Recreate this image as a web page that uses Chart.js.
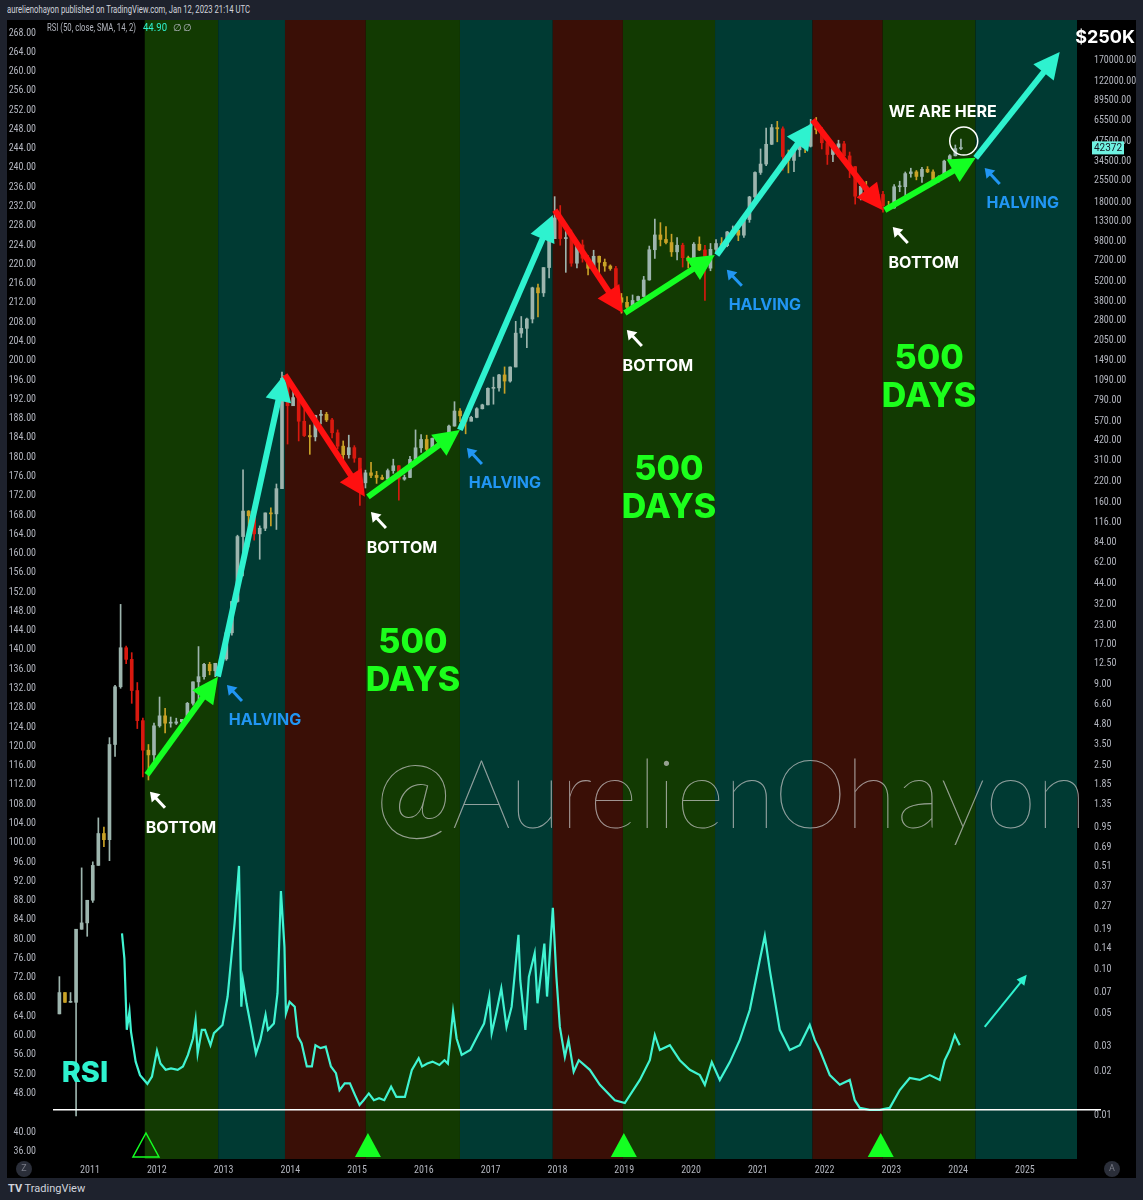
<!DOCTYPE html>
<html>
<head>
<meta charset="utf-8">
<title>BTC cycles</title>
<script src="https://cdn.jsdelivr.net/npm/chart.js@4.4.1/dist/chart.umd.min.js"></script>
<style>
    html, body { margin: 0; padding: 0; background: #1e222d; }
    body { width: 1143px; height: 1200px; position: relative; overflow: hidden; font-family: Roboto, "Liberation Sans", sans-serif; }
    #topo { position: absolute; left: 7px; top: 3px; font-size: 11px; color: #d1d4dc; white-space: nowrap; transform-origin: left center; }
    #quadro { position: absolute; left: 7px; top: 20px; width: 1129px; height: 1158px; background: #000; }
    #rodape { position: absolute; left: 8px; top: 1182px; font-size: 11px; color: #d1d4dc; }
</style>
</head>
<body>
<div id="topo">aurelienohayon published on TradingView.com, Jan 12, 2023 21:14 UTC</div>
<div id="quadro"><canvas id="grafico" width="1129" height="1158"></canvas></div>
<div id="rodape"><b>TV</b> TradingView</div>
<script>
// monthly candles, first one = July 2010
const candleStart = 2010.5;
const firstOpen = 0.05;
const closes = [
    0.07, 0.06, 0.06, 0.19, 0.21, 0.30,
    0.52, 0.86, 0.78, 3.5, 8.7, 16.1, 13.4, 8.2, 5.1, 3.2, 2.97, 4.7,
    5.5, 4.9, 4.9, 5.0, 5.2, 6.7, 9.4, 10.2, 12.4, 11.2, 12.6, 13.5,
    20.4, 33.4, 93, 139, 129, 97, 106, 135, 133, 198, 1130, 732,
    832, 573, 457, 448, 628, 640, 585, 478, 387, 338, 378, 320,
    217, 254, 244, 236, 230, 263, 284, 230, 236, 314, 377, 430,
    368, 437, 416, 448, 531, 673, 624, 573, 609, 698, 742, 963,
    970, 1190, 1080, 1348, 2300, 2480, 2875, 4700, 4340, 6470, 10200, 14150,
    10220, 10330, 6930, 9240, 7500, 6400, 7730, 7030, 6630, 6370, 4020, 3740,
    3460, 3850, 4100, 5320, 8570, 10820, 10080, 9600, 8290, 9200, 7560, 7190,
    9350, 8540, 6410, 8620, 9450, 9140, 11350, 11650, 10780, 13800, 19700, 28990,
    33100, 45200, 58800, 57700, 37300, 35040, 41460, 47100, 43790, 61300, 57000, 46300,
    38480, 43190, 45530, 37640, 31790, 19930, 23300, 20050, 19430, 20490, 17170, 16540,
    23130, 23150, 28480, 29250, 27220, 30480, 29230, 25940, 26970, 34660, 37720, 42270,
    42372
];
const highs = [
    0.09, 0.07, 0.07, 0.19, 0.50, 0.30,
    0.55, 1.10, 0.95, 3.9, 8.9, 31.9, 16.5, 14.9, 9.3, 5.3, 3.5, 4.9,
    7.4, 6.2, 5.4, 5.3, 5.2, 6.8, 9.4, 16.4, 12.6, 12.8, 12.6, 13.7,
    20.4, 33.4, 95, 266, 140, 130, 110, 135, 146, 213, 1242, 1163,
    1000, 850, 700, 540, 630, 680, 660, 600, 500, 420, 460, 390,
    320, 265, 300, 260, 245, 270, 315, 285, 245, 330, 500, 465,
    460, 440, 440, 465, 540, 780, 700, 620, 620, 710, 750, 970,
    1150, 1200, 1350, 1350, 2770, 2990, 2920, 4750, 4980, 6470, 11400, 19800,
    17200, 11800, 11700, 9760, 9990, 7780, 8500, 7760, 7400, 6750, 6600, 4300,
    4100, 4200, 4120, 5630, 9080, 13880, 13140, 12330, 10950, 10370, 9500, 7750,
    9600, 10500, 9200, 9460, 10070, 10380, 11450, 12470, 12100, 14100, 19900, 29300,
    42000, 58300, 61800, 64900, 59600, 41300, 42300, 50500, 52900, 67000, 69000, 59100,
    47900, 45800, 48200, 47400, 40000, 31900, 24700, 25200, 22800, 21000, 21500, 18400,
    23950, 25250, 29200, 31000, 29900, 31400, 31800, 30200, 27500, 35200, 38400, 44700,
    49000
];
const lows = [
    0.05, 0.06, 0.06, 0.01, 0.19, 0.17,
    0.29, 0.52, 0.70, 0.56, 2.9, 8.5, 12.5, 6.7, 4.5, 2.1, 2.0, 2.6,
    4.6, 4.2, 4.6, 4.8, 4.9, 5.2, 6.5, 7.1, 9.8, 10.5, 10.2, 12.4,
    13.2, 19.6, 33, 50, 79, 88, 65, 102, 110, 104, 198, 400,
    750, 420, 450, 340, 420, 550, 570, 440, 370, 280, 320, 300,
    152, 200, 235, 215, 228, 220, 252, 165, 226, 235, 300, 350,
    350, 365, 400, 415, 440, 530, 570, 470, 575, 605, 695, 740,
    750, 920, 890, 1060, 1350, 2150, 1830, 2700, 2970, 4100, 5500, 10900,
    9200, 6000, 6600, 6430, 7050, 5750, 6070, 5880, 6100, 6200, 3700, 3150,
    3380, 3390, 3840, 4070, 5300, 7470, 9100, 9400, 7710, 7300, 6520, 6430,
    6850, 8450, 3850, 6150, 8100, 8900, 8980, 10900, 9880, 10400, 13200, 17600,
    28100, 32300, 45000, 47000, 30000, 28800, 29300, 37300, 39600, 43300, 53300, 42000,
    32900, 34300, 37200, 37600, 26700, 17600, 18800, 19600, 18200, 18200, 15500, 16300,
    16500, 21400, 19550, 26900, 25800, 24800, 28900, 25200, 24900, 26600, 34100, 37600,
    41500
];
const lastPrice = 42372;

// RSI line (left scale)
const rsiYears = [
    2011.479, 2011.515, 2011.551, 2011.591, 2011.614, 2011.684, 2011.749, 2011.859, 2011.928,
    2012.003, 2012.055, 2012.133, 2012.213, 2012.313, 2012.392, 2012.467, 2012.542, 2012.581, 2012.612,
    2012.674, 2012.722, 2012.804, 2012.856, 2012.984,
    2013.061, 2013.165, 2013.231, 2013.266, 2013.290, 2013.344, 2013.406, 2013.485, 2013.551, 2013.629,
    2013.665, 2013.754, 2013.808, 2013.859, 2013.912, 2013.934, 2013.988,
    2014.066, 2014.114, 2014.169, 2014.247, 2014.323, 2014.376, 2014.452, 2014.530, 2014.608, 2014.683,
    2014.737, 2014.814, 2014.892, 2014.967,
    2015.036, 2015.097, 2015.175, 2015.251, 2015.329, 2015.407, 2015.509, 2015.587, 2015.716, 2015.820,
    2015.922, 2015.973,
    2016.051, 2016.129, 2016.232, 2016.308, 2016.359, 2016.437, 2016.490, 2016.566, 2016.695, 2016.823,
    2016.901, 2016.979,
    2017.015, 2017.082, 2017.159, 2017.237, 2017.314, 2017.416, 2017.443, 2017.520, 2017.572, 2017.659,
    2017.701, 2017.804, 2017.844, 2017.931, 2017.984,
    2018.036, 2018.111, 2018.165, 2018.243, 2018.320, 2018.485, 2018.635, 2018.859,
    2019.009, 2019.234, 2019.383, 2019.458, 2019.533, 2019.683, 2019.832, 2019.982,
    2020.132, 2020.207, 2020.311, 2020.431, 2020.581, 2020.731, 2020.880, 2020.955,
    2021.030, 2021.105, 2021.180, 2021.254, 2021.329, 2021.479, 2021.629, 2021.778, 2021.853, 2021.928,
    2022.078, 2022.228, 2022.377, 2022.452, 2022.527, 2022.677, 2022.826, 2022.976,
    2023.126, 2023.275, 2023.425, 2023.575, 2023.725, 2023.799, 2023.874, 2023.949, 2024.024
];
const rsiValues = [
    81.2, 76.0, 61.2, 65.0, 60.8, 54.6, 51.8, 50.0, 51.5,
    56.9, 54.2, 52.9, 53.2, 52.9, 53.6, 56.0, 59.4, 63.2, 56.3,
    61.2, 61.2, 58.0, 60.5, 62.2,
    68.1, 83.3, 95.2, 66.0, 71.5, 66.7, 62.2, 56.3, 59.1, 64.3,
    61.2, 62.5, 68.8, 90.0, 78.4, 64.6, 67.0,
    66.0, 59.8, 58.4, 53.6, 53.6, 58.0, 57.4, 57.7, 53.6, 52.2,
    48.7, 50.1, 50.1, 47.7,
    45.6, 46.6, 48.0, 46.6, 47.0, 46.6, 49.4, 47.3, 47.3, 52.9,
    55.3, 53.6,
    54.2, 54.6, 53.9, 54.9, 54.2, 65.0, 59.4, 56.0, 57.0, 60.5,
    62.5, 68.1,
    60.5, 64.6, 69.8, 61.8, 66.0, 80.9, 71.5, 61.2, 72.2, 77.1,
    66.7, 79.1, 68.1, 86.5, 72.2,
    61.8, 55.6, 59.1, 52.5, 54.9, 52.9, 49.8, 46.6,
    46.0, 50.8, 54.9, 60.1, 57.0, 58.0, 54.9, 52.9,
    51.8, 49.8, 54.5, 50.8, 54.5, 59.1, 65.3, 70.5,
    75.7, 80.7, 73.6, 67.4, 61.2, 57.0, 58.0, 62.2, 59.1, 57.0,
    51.8, 49.8, 50.8, 46.6, 45.0, 44.6, 44.6, 45.0,
    48.7, 51.2, 50.8, 51.8, 50.8, 54.9, 57.0, 60.1, 58.0
];
const rsiLevel = 44.6;

// cycle bands
const bandEdges = [2011.82, 2012.92, 2013.92, 2015.13, 2016.54, 2017.93, 2018.98, 2020.36, 2021.82, 2022.87, 2024.26, 2025.78];
const bandPhases = ["acc", "bull", "bear", "acc", "bull", "bear", "acc", "bull", "bear", "acc", "bull"];

// big trend arrows (price scale)
const trendFromYear = [2011.853, 2012.916, 2013.919, 2015.162, 2016.539, 2017.961, 2019.009, 2020.386, 2021.823, 2022.901, 2024.263];
const trendFromPrice = [2.17, 10.2, 1189, 174, 500, 16000, 3162, 7890, 66400, 16000, 36500];
const trendToYear = [2012.916, 2013.904, 2015.117, 2016.539, 2017.931, 2018.979, 2020.356, 2021.823, 2022.871, 2024.263, 2025.521];
const trendToPrice = [10.2, 1189, 174, 500, 14800, 3162, 7890, 63200, 16000, 36500, 194000];
const trendPhases = ["acc", "bull", "bear", "acc", "bull", "bear", "acc", "bull", "bear", "acc", "bull"];

const bottomYears = [2011.898, 2015.207, 2019.039, 2023.021];
const bottomPrices = [1.66, 137, 2420, 12270];
const halvingYears = [2013.051, 2016.644, 2020.536, 2024.398];
const halvingPrices = [8.95, 376, 6240, 31100];
const daysYears = [2015.835, 2019.67, 2023.565];
const daysPrices = [17.4, 266, 1530];
const hereYear = 2024.084;
const herePrice = 47600;
const signalYears = [2011.838, 2015.162, 2018.994, 2022.841];
const signalFilled = [false, true, true, true];
const rsiArrowYears = [2024.398, 2025.027];
const rsiArrowValues = [61.8, 72.6];

// axes
const yearTicks = [2011, 2012, 2013, 2014, 2015, 2016, 2017, 2018, 2019, 2020, 2021, 2022, 2023, 2024, 2025];
const leftTicks = [36, 40, 48, 52, 56, 60, 64, 68, 72, 76, 80, 84, 88, 92, 96, 100, 104, 108, 112, 116, 120,
    124, 128, 132, 136, 140, 144, 148, 152, 156, 160, 164, 168, 172, 176, 180, 184, 188, 192, 196, 200,
    204, 208, 212, 216, 220, 224, 228, 232, 236, 240, 244, 248, 252, 256, 260, 264, 268];
const rightTicks = [0.01, 0.02, 0.03, 0.05, 0.07, 0.10, 0.14, 0.19, 0.27, 0.37, 0.51, 0.69, 0.95, 1.35, 1.85,
    2.5, 3.5, 4.8, 6.6, 9, 12.5, 17, 23, 32, 44, 62, 84, 116, 160, 220, 310, 420, 570, 790, 1090, 1490,
    2050, 2800, 3800, 5200, 7200, 9800, 13300, 18000, 25500, 34500, 47500, 65500, 89500, 122000, 170000];

const cores = {
    bandas: { acc: "#123a02", bull: "#003a33", bear: "#3a0f06" },
    setas: { acc: "#14ff22", bull: "#2ef2cf", bear: "#ff1010" },
    rsi: "#40f4d2",
    texto: "#b2b5be"
};

const meses = closes.map((c, i) => candleStart + (i + 0.5) / 12);
const opens = closes.map((c, i) => i === 0 ? firstOpen : closes[i - 1]);
const corVela = closes.map((c, i) => c >= opens[i] ? "#9db5ae" : (c < opens[i] * 0.85 ? "#d8190f" : "#c9a227"));
const pavios = meses.map((t, i) => ({ x: t, y: [lows[i], highs[i]] }));
const corpos = meses.map((t, i) => ({ x: t, y: [Math.min(opens[i], closes[i]), Math.max(opens[i], closes[i])] }));
const linhaRsi = rsiYears.map((t, i) => ({ x: t, y: rsiValues[i] }));

function seta(ctx, x1, y1, x2, y2, cor, lw, cab, larg) {
    const a = Math.atan2(y2 - y1, x2 - x1);
    const bx = x2 - cab * Math.cos(a), by = y2 - cab * Math.sin(a);
    ctx.strokeStyle = cor;
    ctx.fillStyle = cor;
    ctx.lineWidth = lw;
    ctx.lineCap = "butt";
    ctx.beginPath();
    ctx.moveTo(x1, y1);
    ctx.lineTo(bx + Math.cos(a), by + Math.sin(a));
    ctx.stroke();
    ctx.beginPath();
    ctx.moveTo(x2, y2);
    ctx.lineTo(bx + larg * Math.sin(a), by - larg * Math.cos(a));
    ctx.lineTo(bx - larg * Math.sin(a), by + larg * Math.cos(a));
    ctx.closePath();
    ctx.fill();
}

// text squeezed to a given width
function textoLargura(ctx, txt, x, y, largura) {
    const w = ctx.measureText(txt).width;
    ctx.save();
    ctx.translate(x, y);
    ctx.scale(Math.min(1, largura / w), 1);
    ctx.fillText(txt, 0, 0);
    ctx.restore();
}

const decoracao = {
    id: "decoracao",
    beforeDatasetsDraw(chart) {
        const { ctx, chartArea: a, scales: { x } } = chart;
        ctx.save();
        for (let i = 0; i < bandPhases.length; i++) {
            const x0 = x.getPixelForValue(bandEdges[i]);
            const x1 = x.getPixelForValue(bandEdges[i + 1]);
            ctx.fillStyle = cores.bandas[bandPhases[i]];
            ctx.fillRect(x0, a.top, x1 - x0, a.bottom - a.top);
        }
        // watermark
        ctx.font = "100 97px Lato";
        const w = ctx.measureText("@AurelienOhayon").width;
        ctx.translate(a.left + 322, a.top + 808);
        ctx.scale(712 / w, 1);
        ctx.fillStyle = "rgba(200,200,200,0.72)";
        ctx.textAlign = "left";
        ctx.textBaseline = "alphabetic";
        ctx.fillText("@AurelienOhayon", 0, 0);
        ctx.restore();
    },
    afterDatasetsDraw(chart) {
        const { ctx, chartArea: a, scales: { x, yL, yR } } = chart;
        const X = t => x.getPixelForValue(t);
        const P = p => yR.getPixelForValue(p);
        const R = v => yL.getPixelForValue(v);
        ctx.save();

        // horizontal RSI level
        ctx.strokeStyle = "#ffffff";
        ctx.lineWidth = 1.5;
        ctx.beginPath();
        ctx.moveTo(a.left, R(rsiLevel));
        ctx.lineTo(a.right + 24, R(rsiLevel));
        ctx.stroke();

        // trend arrows
        for (let i = 0; i < trendPhases.length; i++) {
            seta(ctx, X(trendFromYear[i]), P(trendFromPrice[i]), X(trendToYear[i]), P(trendToPrice[i]),
                cores.setas[trendPhases[i]], 6, 26, 13);
        }
        seta(ctx, X(rsiArrowYears[0]), R(rsiArrowValues[0]), X(rsiArrowYears[1]), R(rsiArrowValues[1]),
            cores.setas.bull, 2, 10, 5);

        ctx.textAlign = "center";
        ctx.textBaseline = "middle";
        ctx.font = "bold 16px Inter, Roboto, sans-serif";
        bottomYears.forEach((t, i) => {
            const px = X(t), py = P(bottomPrices[i]);
            seta(ctx, px + 15, py + 16, px, py, "#ffffff", 3, 9, 6);
            ctx.fillStyle = "#ffffff";
            ctx.fillText("BOTTOM", px + 31, py + 36);
        });
        halvingYears.forEach((t, i) => {
            const px = X(t), py = P(halvingPrices[i]);
            seta(ctx, px + 15, py + 16, px, py, "#2196f3", 3, 9, 6);
            ctx.fillStyle = "#2196f3";
            ctx.fillText("HALVING", px + 38, py + 35);
        });

        // we are here
        const hx = X(hereYear), hy = P(herePrice);
        ctx.strokeStyle = "#ffffff";
        ctx.lineWidth = 1.5;
        ctx.beginPath();
        ctx.arc(hx, hy, 14, 0, Math.PI * 2);
        ctx.stroke();
        ctx.fillStyle = "#ffffff";
        ctx.fillText("WE ARE HERE", hx - 21, hy - 29);

        // 500 days
        ctx.font = "800 34px Inter, Roboto, sans-serif";
        ctx.fillStyle = "#1cff1c";
        daysYears.forEach((t, i) => {
            const px = X(t), py = P(daysPrices[i]);
            ctx.fillText("500", px, py);
            ctx.fillText("DAYS", px, py + 38);
        });

        // RSI label
        ctx.font = "800 29px Inter, Roboto, sans-serif";
        ctx.fillStyle = cores.setas.bull;
        ctx.fillText("RSI", X(2010.925), R(52.2));

        // bottom signals
        signalYears.forEach((t, i) => {
            const px = X(t);
            ctx.beginPath();
            ctx.moveTo(px, a.bottom - 26);
            ctx.lineTo(px + 13, a.bottom - 2);
            ctx.lineTo(px - 13, a.bottom - 2);
            ctx.closePath();
            if (signalFilled[i]) {
                ctx.fillStyle = "#14ff22";
                ctx.fill();
            } else {
                ctx.strokeStyle = "#14ff22";
                ctx.lineWidth = 1.5;
                ctx.stroke();
            }
        });

        // legend
        ctx.textAlign = "left";
        ctx.font = "10px Roboto, sans-serif";
        ctx.fillStyle = cores.texto;
        textoLargura(ctx, "RSI (50, close, SMA, 14, 2)", 40, 8, 89);
        ctx.fillStyle = cores.setas.bull;
        textoLargura(ctx, "44.90", 136, 8, 24);
        ctx.fillStyle = cores.texto;
        ctx.fillText("∅", 166, 8);
        ctx.fillText("∅", 176, 8);

        // last price badge
        const by = P(lastPrice);
        ctx.fillStyle = "#6ff2e2";
        ctx.fillRect(a.right + 15, by - 7, 32, 13);
        ctx.fillStyle = "#131722";
        ctx.font = "10px 'Liberation Sans Narrow', Roboto, sans-serif";
        ctx.textAlign = "center";
        ctx.fillText(String(lastPrice), a.right + 31, by);

        ctx.font = "bold 18px Inter, Roboto, sans-serif";
        ctx.fillStyle = "#ffffff";
        ctx.fillText("$250K", a.right + 28, a.top + 18);

        // corner buttons
        [[17, "Z"], [a.right + 35, "A"]].forEach(([cx, letra]) => {
            ctx.fillStyle = "#2a2e39";
            ctx.beginPath();
            ctx.arc(cx, a.bottom + 10, 8, 0, Math.PI * 2);
            ctx.fill();
            ctx.fillStyle = "#787b86";
            ctx.font = "9px Roboto, sans-serif";
            ctx.fillText(letra, cx, a.bottom + 10);
        });
        ctx.restore();
    }
};

const fonteEixo = { family: "'Liberation Sans Narrow', 'Roboto Condensed', Roboto, sans-serif", size: 10 };

// fixed axis sizes, no extra label padding at the ends
function ajustarEixo(largura, altura) {
    return s => {
        if (largura) s.width = largura;
        if (altura) s.height = altura;
        s.paddingTop = 0;
        s.paddingBottom = 0;
        s.paddingLeft = 0;
        s.paddingRight = 0;
    };
}

const chart = new Chart(document.getElementById("grafico").getContext("2d"), {
    type: "line",
    data: {
        datasets: [
            { type: "bar", data: pavios, yAxisID: "yR", backgroundColor: corVela, barThickness: 1, grouped: false, order: 2 },
            { type: "bar", data: corpos, yAxisID: "yR", backgroundColor: corVela, barThickness: 3, minBarLength: 1, grouped: false, order: 1 },
            { type: "line", data: linhaRsi, yAxisID: "yL", borderColor: cores.rsi, borderWidth: 2.2, pointRadius: 0, tension: 0, order: 0 }
        ]
    },
    options: {
        responsive: false,
        animation: false,
        events: [],
        layout: { padding: 0, autoPadding: false },
        plugins: { legend: { display: false }, tooltip: { enabled: false } },
        scales: {
            x: {
                type: "linear",
                offset: false,
                min: 2010.446,
                max: 2025.78,
                grid: { display: false, offset: false, drawTicks: false, tickLength: 0 },
                border: { display: false },
                afterBuildTicks: s => { s.ticks = yearTicks.map(v => ({ value: v })); },
                afterFit: ajustarEixo(0, 19),
                ticks: { autoSkip: false, maxRotation: 0, padding: 5, color: cores.texto, font: fonteEixo, callback: v => String(v) }
            },
            yL: {
                type: "linear",
                position: "left",
                min: 34.4,
                max: 270.7,
                grid: { display: false, drawTicks: false, tickLength: 0 },
                border: { display: false },
                afterBuildTicks: s => { s.ticks = leftTicks.map(v => ({ value: v })); },
                afterFit: ajustarEixo(46, 0),
                ticks: { autoSkip: false, padding: 17, color: cores.texto, font: fonteEixo, callback: v => Number(v).toFixed(2) }
            },
            yR: {
                type: "logarithmic",
                position: "right",
                min: 0.00507,
                max: 321000,
                grid: { display: false, drawTicks: false, tickLength: 0 },
                border: { display: false },
                afterBuildTicks: s => { s.ticks = rightTicks.map(v => ({ value: v })); },
                afterFit: ajustarEixo(59, 0),
                ticks: { autoSkip: false, padding: 17, color: cores.texto, font: fonteEixo, callback: v => Number(v).toFixed(2) }
            }
        }
    },
    plugins: [decoracao]
});

// header line is narrow in the original
const topo = document.getElementById("topo");
topo.style.transform = "scaleX(" + (243 / topo.getBoundingClientRect().width) + ")";
</script>
</body>
</html>
